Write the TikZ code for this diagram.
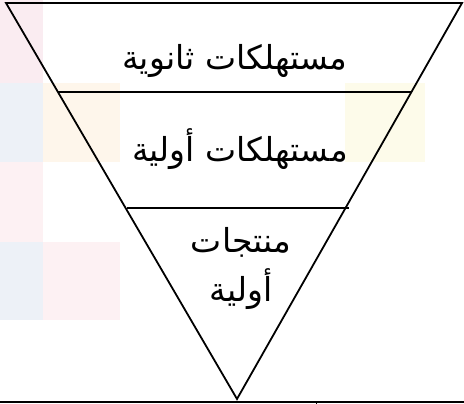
\documentclass[tikz,border=0pt]{standalone}
\usepackage{fontspec}
\newfontfamily\arabicfont[Script=Arabic]{DejaVu Sans}
\TeXXeTstate=1
\begin{document}
\begin{tikzpicture}[x=1pt,y=-1pt,
  edge/.style={line width=1.8pt,line join=miter},
  divider/.style={line width=1.1pt},
  lbl/.style={font=\arabicfont\fontsize{33}{40}\selectfont,text=black,inner sep=0pt,align=center},
  tile/.style={draw=none}]
\useasboundingbox (0,0) rectangle (464,404);
\fill[white] (0,0) rectangle (464,404);
% faint watermark tiles
\fill[tile,fill={rgb,255:red,250;green,236;blue,241}] (0,0) rectangle (43,83);
\fill[tile,fill={rgb,255:red,237;green,241;blue,247}] (0,83) rectangle (43,162);
\fill[tile,fill={rgb,255:red,254;green,246;blue,235}] (43,83) rectangle (120,162);
\fill[tile,fill={rgb,255:red,253;green,241;blue,243}] (0,162) rectangle (43,242);
\fill[tile,fill={rgb,255:red,237;green,241;blue,247}] (0,242) rectangle (43,320);
\fill[tile,fill={rgb,255:red,253;green,241;blue,243}] (43,242) rectangle (120,320);
\fill[tile,fill={rgb,255:red,253;green,251;blue,234}] (345,83) rectangle (425,162);
% triangle
\coordinate (tl) at (6,3);
\coordinate (tr) at (462,3);
\coordinate (ap) at (237,399);
\draw[edge] (tl) -- (tr) -- (ap) -- cycle;
% dividers
\coordinate (d1l) at (58,92);
\coordinate (d1r) at (412,92);
\coordinate (d2l) at (127,208);
\coordinate (d2r) at (349,208);
\draw[divider] (d1l) -- (d1r);
\draw[divider] (d2l) -- (d2r);
% base line
\coordinate (bl) at (0,402);
\coordinate (br) at (464,402);
\draw[line width=2pt] (bl) -- (br);
\coordinate (tk1) at (316,402);
\coordinate (tk2) at (316,404);
\draw[line width=1pt] (tk1) -- (tk2);
% labels
\node[lbl] (l1) at (235,61) {\beginR مستهلكات ثانوية\endR};
\node[lbl] (l2) at (240,149) {\beginR مستهلكات أولية\endR};
\node[lbl] (l3) at (241,242) {\beginR منتجات\endR};
\node[lbl] (l4) at (241,289) {\beginR أولية\endR};
\end{tikzpicture}
\end{document}
